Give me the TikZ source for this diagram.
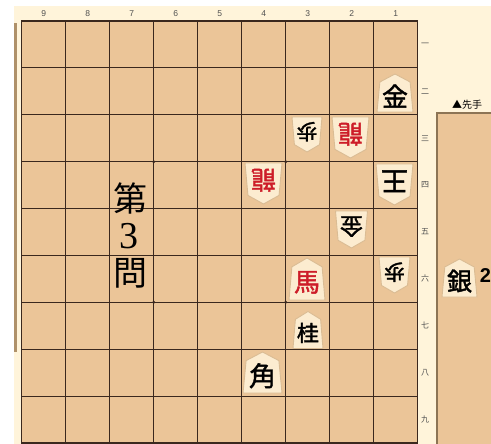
\documentclass[tikz,border=0pt]{standalone}
\usepackage{fontspec}
\setmainfont{Liberation Serif}
\newfontfamily\jp{Noto Sans CJK JP}
\newfontfamily\jpb[FakeBold=1.6]{Noto Sans CJK JP}
\newfontfamily\lsans{Liberation Sans}
\definecolor{cream}{RGB}{255,244,218}
\definecolor{wood}{RGB}{235,197,152}
\definecolor{gridc}{RGB}{58,40,30}
\definecolor{piecef}{RGB}{252,236,208}
\definecolor{piecee}{RGB}{218,188,148}
\definecolor{redk}{RGB}{205,28,40}
\definecolor{labc}{RGB}{80,80,80}
\definecolor{barc}{RGB}{175,145,105}
\newcommand\fs[1]{\fontsize{#1}{#1}\selectfont}
% sente piece: name, x, y, w, h, text
\newcommand\senteP[6]{%
 \begin{scope}[shift={(#2,#3)}]
  \filldraw[piecebody] (0,-#5/2) -- (#4*0.42,-#5*0.29) -- (#4/2,#5/2) -- (-#4/2,#5/2) -- (-#4*0.42,-#5*0.29) -- cycle;
  \node[piecetext] (#1) at (0,#5*0.08) {#6};
 \end{scope}}
% gote piece (inverted)
\newcommand\goteP[6]{%
 \begin{scope}[shift={(#2,#3)},rotate=180]
  \filldraw[piecebody] (0,-#5/2) -- (#4*0.42,-#5*0.29) -- (#4/2,#5/2) -- (-#4/2,#5/2) -- (-#4*0.42,-#5*0.29) -- cycle;
  \node[piecetext,rotate=180] (#1) at (0,#5*0.08) {#6};
 \end{scope}}
\tikzset{
 piecebody/.style={fill=piecef,draw=piecee,line width=0.9pt,line join=round},
 piecetext/.style={inner sep=0pt,font=\jpb},
 gridline/.style={draw=gridc,line width=1pt},
 collab/.style={font=\lsans\fs{8.5},text=labc,inner sep=0pt},
 rowlab/.style={font=\jp\fs{8},text=labc,inner sep=0pt},
 star/.style={circle,fill=gridc,inner sep=0pt,minimum size=3.2pt}
}
\begin{document}
\begin{tikzpicture}[x=1pt,y=-1pt]
\useasboundingbox (0,0) rectangle (491,444);
\fill[white] (0,0) rectangle (491,444);
\fill[cream] (14,6) rectangle (491,444);
% left bar
\fill[barc] (14,23) rectangle (16.6,352);
% board
\fill[wood] (21.7,21) rectangle (417.7,443);
\foreach \i in {1,...,8}{\draw[gridline] (21.7+44*\i,21) -- (21.7+44*\i,443);}
\foreach \j in {1,...,8}{\draw[gridline] (21.7,21+46.89*\j) -- (417.7,21+46.89*\j);}
\draw[gridc,line width=1.5pt] (21.7,21) rectangle (417.7,443);
% star points
\node[star] (s1) at (153.7,161.7) {};
\node[star] (s2) at (285.7,161.7) {};
\node[star] (s3) at (153.7,302.3) {};
\node[star] (s4) at (285.7,302.3) {};
% column labels
\foreach \n [count=\i from 0] in {9,8,7,6,5,4,3,2,1}{\node[collab] (c\n) at (43.7+44*\i,14) {\n};}
% row labels
\foreach \k [count=\j from 0] in {一,二,三,四,五,六,七,八,九}{\node[rowlab] (r\j) at (425,44.45+46.89*\j) {\k};}
% hand panel
\fill[wood] (437,113) rectangle (491,444);
\draw[barc!80!black,line width=1.2pt] (437,444) -- (437,113) -- (491,113);
\node[inner sep=0pt,font=\jp\fs{10}] (sente) at (467,105) {▲先手};
% title
\node[inner sep=0pt,font=\jp\fs{34}] (t1) at (130,198) {第};
\node[inner sep=0pt,font=\fs{38}] (t2) at (129,236.5) {3};
\node[inner sep=0pt,font=\jp\fs{34}] (t3) at (130,273.5) {問};
% pieces
\senteP{p12}{395}{93}{36}{38}{\fs{26}金}
\goteP{p33}{307}{134.5}{30}{35}{\fs{21}歩}
\goteP{p23}{350.5}{137.5}{37}{41}{\fs{25}\color{redk}龍}
\goteP{p44}{263.5}{183.5}{37}{41}{\fs{25}\color{redk}龍}
\goteP{p14}{394.5}{184.5}{37}{41}{\fs{27}王}
\goteP{p25}{351.5}{229.5}{32}{37}{\fs{23}金}
\senteP{p36}{307}{279}{36}{42}{\fs{26}\color{redk}馬}
\goteP{p16}{394.5}{275}{31}{36}{\fs{21}歩}
\senteP{p37}{308}{330}{30}{37}{\fs{22}桂}
\senteP{p48}{262.5}{372.5}{39}{41}{\fs{27}角}
\senteP{h1}{459.5}{278}{35}{38}{\fs{25}銀}
\node[inner sep=0pt,font=\lsans\bfseries\fs{20}] (h1n) at (485.5,276) {2};
\end{tikzpicture}
\end{document}
